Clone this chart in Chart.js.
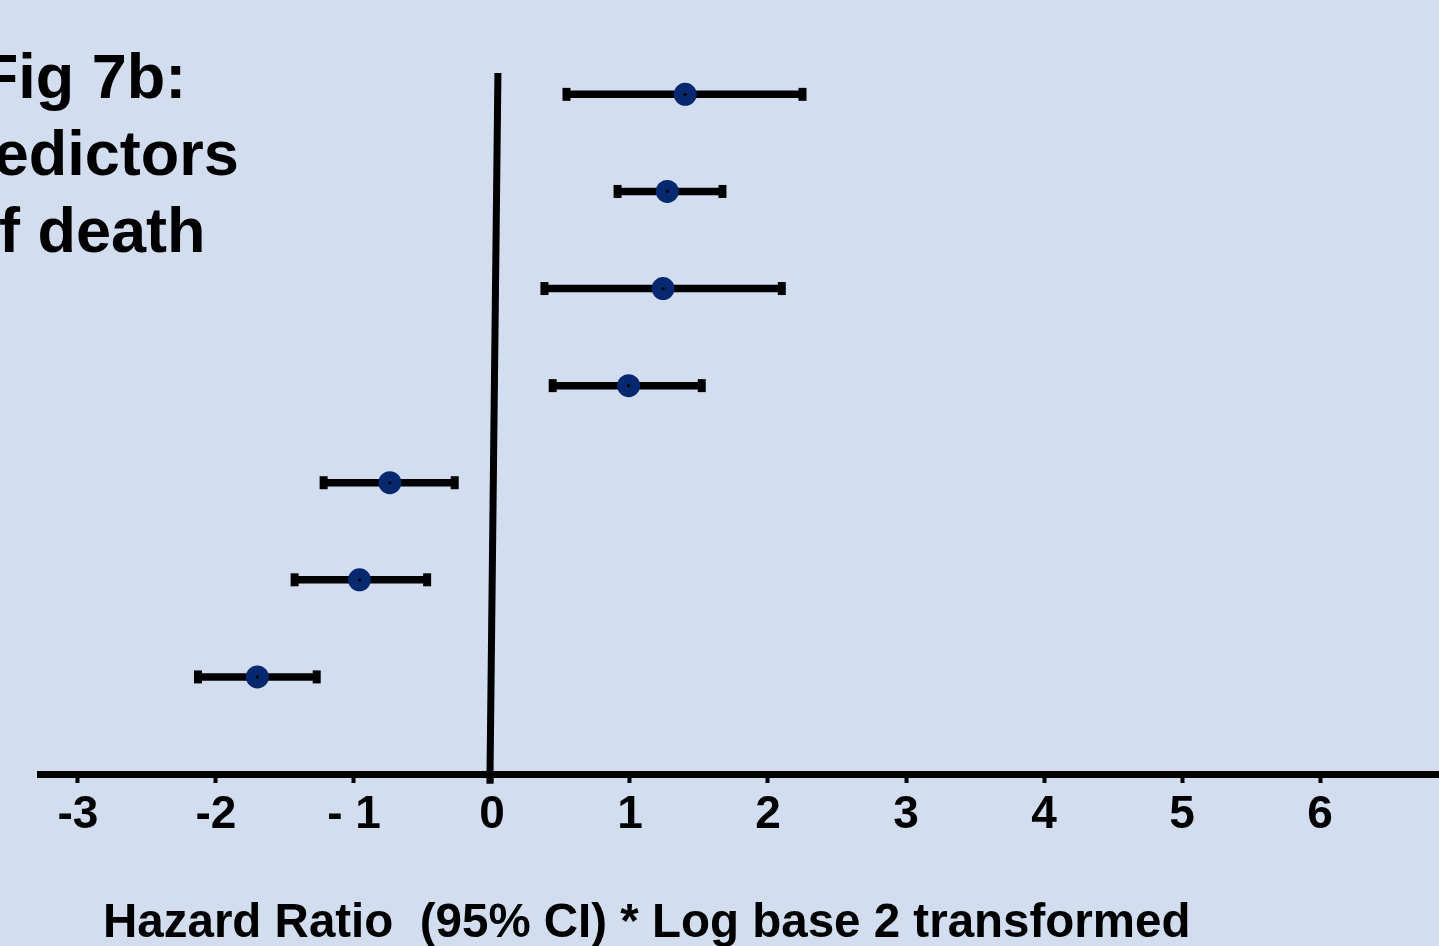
<!DOCTYPE html>
<html>
<head>
<meta charset="utf-8">
<script src="https://cdn.jsdelivr.net/npm/chart.js@4"></script>
<style>
  html, body { margin: 0; padding: 0; overflow: hidden; background: #d2def0; }
  #wrap { position: relative; width: 1439px; height: 980px; }
  #forest { display: block; }
  #fig { position: absolute; left: -117px; top: 38px; width: 400px; text-align: center;
         font: bold 63px "Liberation Sans", Arial, sans-serif; line-height: 77px; color: #000; }
  #xtitle { position: absolute; left: 103px; top: 893px; white-space: pre;
            font: bold 47.5px "Liberation Sans", Arial, sans-serif; color: #000; }
</style>
</head>
<body>
<div id="wrap">
  <canvas id="forest" width="1439" height="980"></canvas>
  <div id="fig">Fig 7b:<br>Predictors<br>of death</div>
  <div id="xtitle">Hazard Ratio  (95% CI) * Log base 2 transformed</div>
</div>
<script>
// ===== Data (log2 hazard ratio, 95% CI) =====
const rows = [7, 6, 5, 4, 3, 2, 1];
const hazard = [1.40, 1.27, 1.24, 0.99, -0.74, -0.96, -1.70];
const ciLow  = [0.54, 0.91, 0.38, 0.44, -1.22, -1.43, -2.13];
const ciHigh = [2.25, 1.67, 2.10, 1.52, -0.27, -0.47, -1.27];

const tickValues = [-3, -2, -1, 0, 1, 2, 3, 4, 5, 6];
const tickLabels = ['-3', '-2', '- 1', '0', '1', '2', '3', '4', '5', '6'];

// reference line at 0 (drawn slightly tilted like the original slide)
const zeroLineX = [-0.015, 0.043];
const zeroLineY = [-0.1, 7.22];

const navy = '#06286e';
const font = '"Liberation Sans", Arial, sans-serif';

// one dataset per CI bar, caps drawn as rotated line points
const ciSets = rows.map((r, i) => ({
  type: 'line',
  data: [{ x: ciLow[i], y: r }, { x: ciHigh[i], y: r }],
  borderColor: '#000',
  borderWidth: 7.5,
  pointStyle: 'line',
  rotation: 90,
  pointRadius: 6.5,
  pointBorderWidth: 8,
  pointBorderColor: '#000',
  order: 3
}));

const ctx = document.getElementById('forest').getContext('2d');
new Chart(ctx, {
  type: 'scatter',
  data: {
    datasets: [
      {
        type: 'line',
        data: [{ x: zeroLineX[0], y: zeroLineY[0] }, { x: zeroLineX[1], y: zeroLineY[1] }],
        borderColor: '#000',
        borderWidth: 7,
        pointRadius: 0,
        clip: false,
        order: 4
      },
      ...ciSets,
      {
        data: rows.map((r, i) => ({ x: hazard[i], y: r })),
        backgroundColor: navy,
        borderColor: navy,
        pointRadius: 11.5,
        pointBorderWidth: 0,
        order: 2
      },
      {
        data: rows.map((r, i) => ({ x: hazard[i], y: r })),
        backgroundColor: '#000',
        pointRadius: 1.6,
        pointBorderWidth: 0,
        order: 1
      }
    ]
  },
  options: {
    responsive: false,
    animation: false,
    layout: { autoPadding: false, padding: { left: 40, right: 0, top: 73, bottom: 0 } },
    plugins: { legend: { display: false }, tooltip: { enabled: false } },
    scales: {
      x: {
        type: 'linear',
        min: -3.275,
        max: 6.862,
        afterBuildTicks: s => { s.ticks = tickValues.map(v => ({ value: v })); },
        afterFit: s => { s.height = 980 - 774; s.paddingLeft = 0; s.paddingRight = 0; },
        ticks: {
          color: '#000',
          padding: 5,
          font: { family: font, size: 46, weight: 'bold' },
          callback: (v, i) => tickLabels[i]
        },
        grid: { drawOnChartArea: false, drawTicks: true, tickLength: 9, tickWidth: 4, color: '#000' },
        border: { display: true, color: '#000', width: 7 }
      },
      y: {
        type: 'linear',
        min: 0,
        max: 7.22,
        display: false
      }
    }
  }
});
</script>
</body>
</html>
